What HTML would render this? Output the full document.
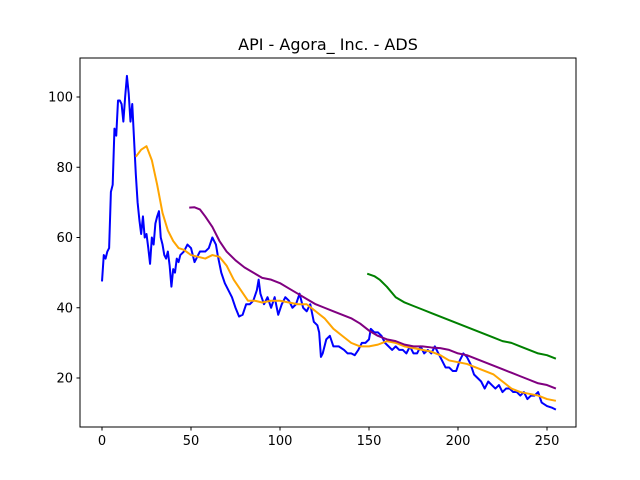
<!DOCTYPE html>
<html><head><meta charset="utf-8"><style>
body{margin:0;background:#fff;}
svg{display:block;font-family:"DejaVu Sans","Liberation Sans",sans-serif;}
</style></head><body>
<svg id="chart" width="640" height="480"></svg>
<script>
const blueX=[0,1,2,3,4,5,6,7,8,9,10,11,12,13,14,15,16,17,18,19,20,21,22,23,24,25,26,27,28,29,30,31,32,33,34,35,36,37,38,39,40,41,42,43,44,46,48,50,52,55,58,60,62,64,65,67,69,71,73,75,77,79,81,83,85,87,88,89,91,93,95,97,99,101,103,105,107,109,111,113,115,117,119,121,122,123,124,126,128,130,133,136,138,140,142,144,146,148,150,151,153,155,157,159,161,163,165,167,169,171,173,175,177,179,181,183,185,187,189,191,193,195,197,199,201,203,205,207,209,211,213,215,217,219,221,223,225,227,229,231,233,235,237,239,241,243,245,247,250,253,255];
const blueY=[47.5,55,54,56,57,73,75,91,89,99,99,98,93,100,106,101,93,98,88,78,70,65,61,66,60,61,57,52.5,60,58,64,66,67.5,60,58,55,54,56,52,46,51,50,54,53,55,56,58,57,53,56,56,57,60,58,55,50,47,45,43,40,37.5,38,41,41,42,45,48,44,41,43,40,43,38,41,43,42,40,41,44,40,39,41,36,35,33,26,27,31,32,29,29,28,27,27,26.5,28,30,30,31,34,33,33,32,30,29,28,29,28,28,27,29,27,27,29,27,28,27,29,27,25,23,23,22,22,25,27,26,24,21,20,19,17,19,18,17,18,16,17,17,16,16,15,16,14,15,15,16,13,12,11.5,11];
const orangeX=[19,22,25,28,31,34,37,40,43,46,50,54,58,62,66,70,74,78,82,86,90,95,100,105,110,115,120,125,130,135,140,145,150,155,160,165,170,175,180,185,190,195,200,205,210,215,220,225,230,235,240,245,250,255];
const orangeY=[83,85,86,82,75,67,62,59,57,56.5,55,54.5,54,55,54.5,52,48,45,42,42,41.5,42,42,41.5,41,41,39,37,34,32,30,29,29,29.5,30.5,30,29,28.5,28,27.5,26.5,25,24.5,24,23,22,21,19,17,16,15.5,15,14,13.5];
const purpleX=[49,52,55,58,62,66,70,75,80,85,90,95,100,105,110,115,120,125,130,135,140,145,150,155,160,165,170,175,180,185,190,195,200,205,210,215,220,225,230,235,240,245,250,255];
const purpleY=[68.5,68.6,68,66,63,59,56,53.5,51.5,50,48.5,48,47,45.5,44,42.5,41,40,39,38,37,35.5,33.5,32,31,30.5,29.5,29,29,28.7,28.5,28,27,26.5,25.5,24.5,23.5,22.5,21.5,20.5,19.5,18.5,18,17];
const greenX=[149,153,156,160,165,170,175,180,185,190,195,200,205,210,215,220,225,230,235,240,245,250,255];
const greenY=[49.7,49,48,46,43,41.5,40.5,39.5,38.5,37.5,36.5,35.5,34.5,33.5,32.5,31.5,30.5,30,29,28,27,26.5,25.5];
const xTicks=[0,50,100,150,200,250];
const yTicks=[20,40,60,80,100];

const NS="http://www.w3.org/2000/svg";
const svg=document.getElementById('chart');
const sx=v=>102+v*1.78;
const sy=v=>448.25-v*3.5125;
function mk(t,a){const e=document.createElementNS(NS,t);for(const k in a)e.setAttribute(k,a[k]);svg.appendChild(e);return e;}

const frame=mk('rect',{x:80,y:58,width:496,height:369,fill:'none',stroke:'#000','stroke-width':1});



const title=mk('text',{x:328,y:50,'text-anchor':'middle','font-size':16});
title.textContent='API - Agora_ Inc. - ADS';



xTicks.forEach(t=>{
  const l=mk('line',{x1:sx(t),x2:sx(t),y1:427,y2:430.5,stroke:'#000'});
  
  
  const tx=mk('text',{x:sx(t),y:445,'text-anchor':'middle','font-size':13});
  tx.textContent=t;
  
  
});
yTicks.forEach(t=>{
  const l=mk('line',{x1:76.5,x2:80,y1:sy(t),y2:sy(t),stroke:'#000'});
  
  
  const tx=mk('text',{x:73,y:sy(t)+4.5,'text-anchor':'end','font-size':13});
  tx.textContent=t;
  
  
});

function line(xs,ys,color,name){
  const p=mk('polyline',{points:xs.map((x,i)=>sx(x)+','+sy(ys[i])).join(' '),fill:'none',stroke:color,'stroke-width':2,'stroke-linejoin':'round'});
  
  
}
line(blueX,blueY,'#0000ff','price-line');
line(orangeX,orangeY,'#ffa500','ma20-line');
line(purpleX,purpleY,'#800080','ma50-line');
line(greenX,greenY,'#008000','ma150-line');
</script>
</body></html>
